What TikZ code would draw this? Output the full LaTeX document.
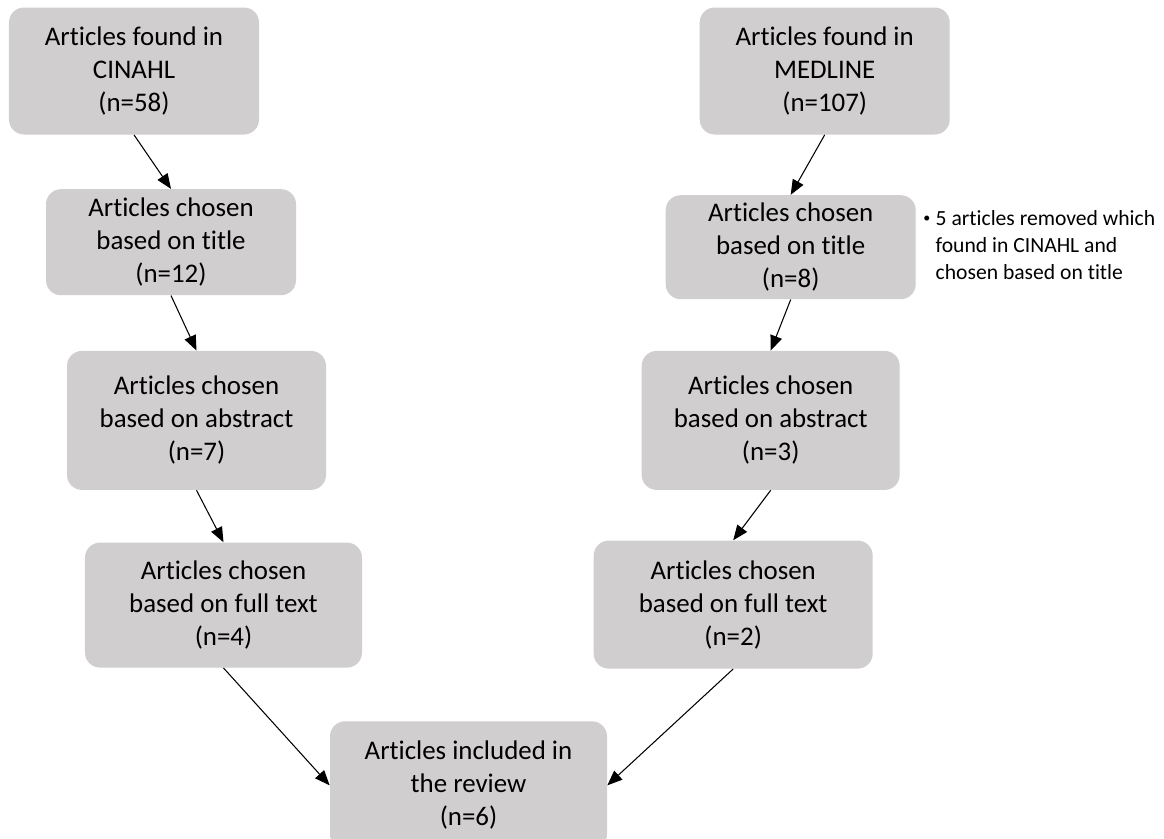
\documentclass[tikz,border=0pt]{standalone}
\usepackage{fontspec}
\setmainfont[Ligatures=NoCommon]{Carlito}
\usetikzlibrary{positioning, arrows.meta}
\definecolor{boxgray}{RGB}{208,206,206}

\begin{document}
\begin{tikzpicture}[
    stage/.style = {fill=boxgray, rounded corners=0.3cm, align=center, minimum width=5cm,
        font=\fontsize{15.3}{18.8}\selectfont},
    flow/.style = {-{Triangle[length=0.3cm, width=0.24cm]}, line width=0.6pt},
    remark/.style = {inner sep=0pt, font=\fontsize{12.3}{15.1}\selectfont}
]
    \useasboundingbox (0,0) rectangle (23.28,-16.76);
    \node [stage, minimum height=2.54cm] (cinahl) at (2.68,-1.42) {Articles found in\\CINAHL\\(n=58)};
    \node [stage, minimum height=2.54cm, right = 8.8cm of cinahl] (medline) {Articles found in\\MEDLINE\\(n=107)};
    \node [stage, minimum height=2.12cm, below = 1.08cm of cinahl, xshift=0.74cm] (titleL) {Articles chosen\\based on title\\(n=12)};
    \node [stage, minimum height=2.08cm, below = 1.2cm of medline, xshift=-0.68cm] (titleR) {Articles chosen\\based on title\\(n=8)};
    \node [stage, minimum height=2.78cm, minimum width=5.18cm, below = 1.1cm of titleL, xshift=0.51cm] (abstractL) {Articles chosen\\based on abstract\\(n=7)};
    \node [stage, minimum height=2.78cm, minimum width=5.16cm, below = 1.02cm of titleR, xshift=-0.4cm] (abstractR) {Articles chosen\\based on abstract\\(n=3)};
    \node [stage, minimum height=2.5cm, minimum width=5.54cm, below = 1.04cm of abstractL, xshift=0.54cm] (fulltextL) {Articles chosen\\based on full text\\(n=4)};
    \node [stage, minimum height=2.56cm, minimum width=5.58cm, below = 1.0cm of abstractR, xshift=-0.75cm] (fulltextR) {Articles chosen\\based on full text\\(n=2)};
    \node [stage, minimum height=2.56cm, minimum width=5.54cm, below = 1.06cm of fulltextL, xshift=4.9cm] (review) {Articles included in\\the review\\(n=6)};
    \node [remark, right = 0.14cm of titleR] (removed) {\begin{tabular}{@{}l@{\hspace{3pt}}l@{}}\raisebox{0.35ex}{\fontsize{8}{8}\selectfont\textbullet} & 5 articles removed which\\ & found in CINAHL and\\ & chosen based on title\end{tabular}};
    \draw [flow] (cinahl.south) -- (titleL.north);
    \draw [flow] (titleL.south) -- (abstractL.north);
    \draw [flow] (abstractL.south) -- (fulltextL.north);
    \draw [flow] (fulltextL.south) -- (review.west);
    \draw [flow] (medline.south) -- (titleR.north);
    \draw [flow] (titleR.south) -- (abstractR.north);
    \draw [flow] (abstractR.south) -- (fulltextR.north);
    \draw [flow] (fulltextR.south) -- (review.east);
\end{tikzpicture}
\end{document}
